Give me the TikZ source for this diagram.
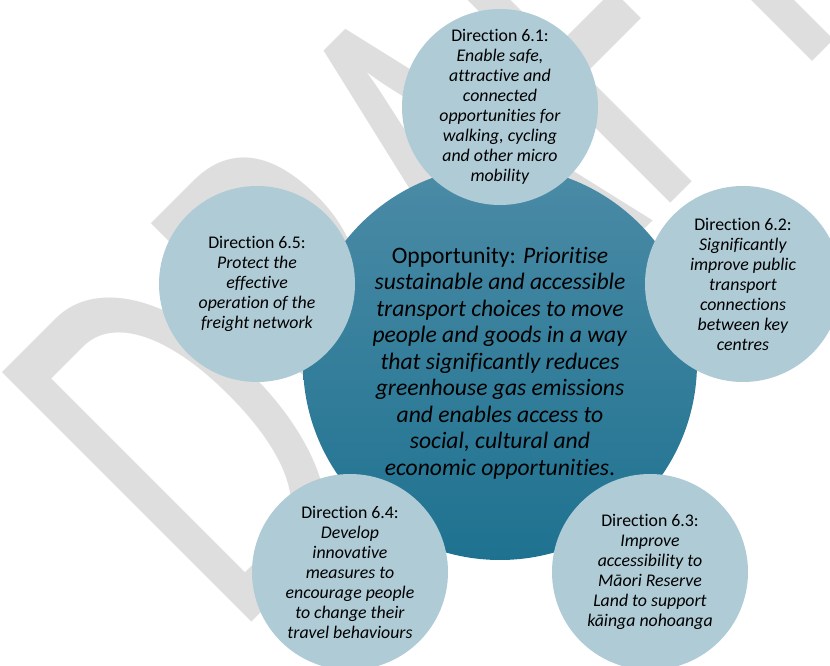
\documentclass[tikz,border=0pt]{standalone}
\usepackage{fontspec}
\setmainfont{Carlito}[Ligatures={NoCommon,NoContextual}]
\definecolor{satblue}{RGB}{175,203,214}
\definecolor{coretop}{RGB}{75,139,166}
\definecolor{corebot}{RGB}{30,114,144}
\definecolor{wmgray}{RGB}{222,222,222}
\begin{document}
\begin{tikzpicture}[x=1pt,y=1pt,
  sat/.style={circle, fill=satblue, minimum size=196pt, inner sep=0pt},
  core/.style={circle, minimum size=394pt, inner sep=0pt, top color=coretop, bottom color=corebot},
  sattext/.style={align=center, font=\fontsize{17.8}{20}\selectfont, inner sep=0pt},
  coretext/.style={align=center, font=\fontsize{23.6}{26.5}\selectfont, inner sep=0pt},
  watermark/.style={text=wmgray, font=\fontsize{550}{550}\selectfont, inner sep=0pt, anchor=base west, transform shape}]
\useasboundingbox (0,0) rectangle (830,666);
\clip (0,0) rectangle (830,666);

% diagonal watermark behind everything
\begin{scope}[shift={(235.1,27.1)}, rotate=45, xscale=0.62]
  \node[watermark] (wm) at (0,0) {DRAFT};
\end{scope}

% central opportunity
\node[core] (core) at (500,303) {};
\node[coretext] (coretxt) at (core.center) {Opportunity: \textit{Prioritise}\\
  \textit{sustainable and accessible}\\
  \textit{transport choices to move}\\
  \textit{people and goods in a way}\\
  \textit{that significantly reduces}\\
  \textit{greenhouse gas emissions}\\
  \textit{and enables access to}\\
  \textit{social, cultural and}\\
  \textit{economic opportunities}.};

% surrounding directions
\node[sat] (d61) at (500,559) {};
\node[sattext] (t61) at (d61.center) {Direction 6.1:\\
  \textit{Enable safe,}\\ \textit{attractive and}\\ \textit{connected}\\
  \textit{opportunities for}\\ \textit{walking, cycling}\\
  \textit{and other micro}\\ \textit{mobility}};

\node[sat] (d62) at (743,382) {};
\node[sattext] (t62) at (d62.center) {Direction 6.2:\\
  \textit{Significantly}\\ \textit{improve public}\\ \textit{transport}\\
  \textit{connections}\\ \textit{between key}\\ \textit{centres}};

\node[sat] (d63) at (650,94) {};
\node[sattext] (t63) at (d63.center) {Direction 6.3:\\
  \textit{Improve}\\ \textit{accessibility to}\\ \textit{Māori Reserve}\\
  \textit{Land to support}\\ \textit{kāinga nohoanga}};

\node[sat] (d64) at (350,94) {};
\node[sattext] (t64) at (d64.center) {Direction 6.4:\\
  \textit{Develop}\\ \textit{innovative}\\ \textit{measures to}\\
  \textit{encourage people}\\ \textit{to change their}\\ \textit{travel behaviours}};

\node[sat] (d65) at (257,382) {};
\node[sattext] (t65) at (d65.center) {Direction 6.5:\\
  \textit{Protect the}\\ \textit{effective}\\ \textit{operation of the}\\
  \textit{freight network}};
\end{tikzpicture}
\end{document}
